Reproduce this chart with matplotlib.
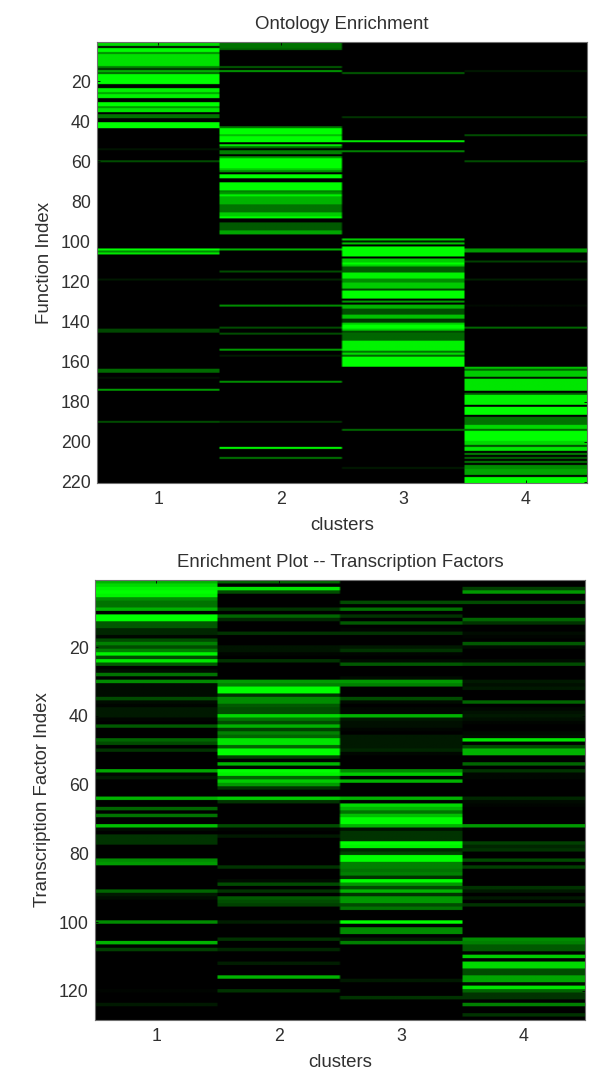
import numpy as np
import matplotlib
matplotlib.use("Agg")
import matplotlib.pyplot as plt
from matplotlib.colors import LinearSegmentedColormap

plt.rcParams['font.family'] = ['Liberation Sans', 'DejaVu Sans']

clusters = [1, 2, 3, 4]
onto_rows = 220
tf_rows = 128
onto_yticks = [20, 40, 60, 80, 100, 120, 140, 160, 180, 200, 220]
tf_yticks = [20, 40, 60, 80, 100, 120]

# enrichment: (first row, last row, level)
onto_c1 = [(1, 2, .85), (3, 3, .05), (4, 5, 1), (6, 6, .55), (7, 12, .88), (13, 13, .5), (14, 14, .2),
           (15, 15, .7), (16, 16, .4), (17, 21, 1), (24, 25, .95), (26, 26, .65), (27, 28, .95),
           (31, 32, 1), (33, 33, .6), (34, 35, .9), (37, 38, .45), (41, 43, 1), (54, 54, .08),
           (60, 60, .3), (104, 104, 1), (105, 105, .55), (106, 106, .9), (119, 119, .1), (144, 145, .28),
           (164, 165, .42), (168, 168, .06), (174, 174, .6), (190, 190, .3)]
onto_c2 = [(1, 3, .45), (4, 4, .4), (13, 13, .35), (15, 15, .6), (43, 43, .45), (44, 46, 1), (47, 47, .75),
           (48, 50, 1), (52, 52, .9), (53, 53, .4), (55, 56, .5), (58, 58, .6), (59, 63, 1), (64, 64, .8),
           (65, 65, .55), (67, 68, 1), (71, 74, 1), (75, 75, .5), (76, 76, .6), (77, 77, .95), (78, 78, .7),
           (79, 81, .7), (82, 85, .45), (86, 87, .8), (88, 88, 1), (91, 94, .35), (95, 96, .65),
           (104, 104, .7), (115, 115, .3), (119, 119, .15), (132, 132, .55), (143, 143, .3), (146, 146, .3),
           (154, 154, .6), (157, 157, .1), (170, 170, .55), (190, 190, .2), (203, 203, 1), (208, 208, .45)]
onto_c3 = [(16, 16, .35), (38, 38, .2), (50, 50, .9), (55, 55, .5), (99, 99, .8), (100, 100, .1),
           (101, 101, .75), (103, 107, 1), (109, 110, .8), (111, 111, 1), (112, 112, .8), (113, 115, .35),
           (116, 118, .95), (119, 120, .55), (121, 123, .8), (124, 124, .25), (125, 128, 1), (130, 130, .6),
           (132, 133, .7), (134, 136, .3), (137, 138, .75), (139, 140, .2), (141, 141, .8), (142, 143, 1),
           (144, 144, .8), (145, 145, .3), (146, 149, .4), (150, 154, .95), (155, 155, .45), (156, 156, .85),
           (157, 157, .4), (158, 162, 1), (194, 194, .4), (213, 213, .1)]
onto_c4 = [(15, 15, .1), (38, 38, .2), (47, 47, .3), (60, 60, .3), (104, 105, .6), (110, 110, .25),
           (119, 119, .12), (132, 132, .04), (143, 143, .4), (163, 163, .75), (164, 164, .4), (165, 167, .8),
           (168, 168, .1), (169, 174, .9), (176, 176, .35), (177, 181, .95), (183, 186, 1), (188, 191, .45),
           (192, 193, .85), (194, 194, .4), (195, 199, 1), (200, 201, .85), (202, 202, .3), (203, 204, .9),
           (206, 206, .5), (208, 208, .4), (210, 210, .45), (212, 213, .55), (214, 216, .65), (218, 220, 1)]

tf_c1 = [(1, 1, .7), (2, 2, .85), (3, 3, .95), (4, 4, 1), (5, 5, .95), (6, 6, .55), (7, 8, .45), (9, 9, .7),
         (11, 12, 1), (13, 14, .35), (15, 16, .15), (17, 17, .03), (18, 18, .3), (19, 19, .5), (20, 20, .3),
         (21, 21, .5), (22, 22, .95), (23, 23, .3), (24, 24, .9), (25, 25, .35), (27, 27, .05), (28, 28, .45),
         (30, 30, .55), (31, 34, .05), (35, 35, .3), (36, 36, .05), (37, 37, .02), (38, 40, .1), (41, 41, .02),
         (43, 43, .35), (47, 47, .4), (48, 48, .3), (50, 50, .2), (56, 56, .65), (57, 57, .03), (58, 58, .1),
         (64, 64, .7), (67, 67, .4), (69, 69, .45), (72, 72, .75), (73, 73, .05), (75, 77, .2), (82, 82, .55),
         (83, 83, .6), (91, 91, .4), (92, 92, .1), (93, 93, .05), (100, 100, .55), (106, 106, .7),
         (108, 108, .25), (120, 120, .02), (124, 124, .1)]
tf_c2 = [(1, 1, .4), (3, 3, .9), (4, 4, .3), (9, 9, .2), (11, 11, .4), (12, 12, .15), (16, 16, .2), (20, 21, .08),
         (22, 22, .02), (24, 24, .2), (30, 30, .6), (31, 31, .5), (32, 33, 1), (34, 34, .2), (35, 36, .55),
         (37, 37, .35), (38, 39, .3), (40, 40, .85), (41, 41, .45), (42, 42, .3), (43, 43, .7), (44, 44, .25),
         (45, 45, .5), (46, 46, .4), (47, 48, .9), (49, 49, .4), (50, 51, 1), (52, 52, .25), (54, 54, .7),
         (55, 55, .03), (56, 56, 1), (57, 57, .95), (58, 58, .4), (59, 59, .8), (60, 60, .6), (61, 61, .2),
         (64, 64, .8), (65, 65, .2), (72, 72, .3), (73, 73, .02), (75, 75, .1), (84, 84, .2), (88, 88, .05),
         (89, 89, .3), (91, 91, .2), (93, 93, .35), (94, 94, .3), (95, 95, .25), (100, 100, .12), (105, 105, .2),
         (108, 108, .15), (112, 112, .12), (116, 116, .7), (120, 120, .2)]
tf_c3 = [(7, 7, .3), (9, 9, .45), (11, 11, .2), (13, 13, .35), (15, 15, .02), (16, 16, .2), (20, 20, .1),
         (21, 21, .2), (22, 22, .02), (24, 24, .05), (25, 25, .35), (29, 29, .05), (30, 30, .6), (31, 31, .5),
         (35, 35, .3), (36, 36, .05), (38, 39, .03), (40, 40, .7), (41, 41, .1), (42, 43, .06), (44, 44, .02),
         (46, 49, .1), (50, 50, .15), (51, 51, .03), (56, 56, .55), (57, 57, .8), (59, 59, .7), (64, 64, .7),
         (66, 66, .85), (67, 67, .7), (68, 68, .45), (69, 69, .75), (70, 71, 1), (72, 72, .7), (73, 73, .08),
         (74, 76, .2), (77, 77, 1), (78, 78, .95), (79, 79, .15), (80, 80, .25), (81, 82, 1), (83, 84, .5),
         (85, 85, .45), (86, 86, .5), (87, 87, .2), (88, 88, 1), (89, 89, .6), (90, 90, .3), (91, 91, .7),
         (92, 92, .2), (93, 94, .6), (95, 95, .3), (96, 96, .45), (100, 100, 1), (102, 103, .55), (105, 105, .1),
         (106, 106, .5), (117, 117, .1), (122, 122, .2)]
tf_c4 = [(3, 3, .25), (4, 4, .6), (7, 7, .3), (12, 12, .4), (13, 13, .2), (16, 16, .05), (17, 17, .02),
         (19, 19, .35), (20, 20, .05), (24, 24, .05), (25, 25, .3), (30, 30, .1), (31, 31, .06), (32, 32, .1),
         (36, 36, .4), (38, 38, .03), (39, 39, .07), (40, 40, .1), (41, 41, .06), (42, 42, .02), (45, 45, .03),
         (46, 46, .05), (47, 47, .9), (49, 49, .3), (50, 51, .7), (54, 54, .4), (56, 56, .2), (57, 58, .03),
         (64, 64, .15), (65, 65, .04), (66, 66, .02), (72, 72, .6), (77, 77, .25), (78, 78, .15), (79, 79, .2),
         (82, 82, .3), (84, 84, .25), (90, 90, .2), (91, 91, .1), (93, 93, .1), (95, 95, .2), (105, 105, .55),
         (106, 106, .5), (107, 108, .35), (110, 110, .8), (112, 113, .85), (114, 115, .3), (116, 117, .65),
         (118, 118, .05), (119, 119, .9), (120, 120, .4), (121, 122, .2), (124, 124, .5), (127, 127, .2)]


def to_matrix(columns, nrows):
    m = np.zeros((nrows, len(columns)))
    for j, col in enumerate(columns):
        for first, last, level in col:
            m[first - 1:last, j] = level
    return m


black_green = LinearSegmentedColormap.from_list("black_green", ["#000000", "#00ff00"])
textcol = "#303030"
fs = 13.4


def heat(box, matrix, yticks, title, ylabel):
    ax = fig.add_axes(box)
    n = matrix.shape[0]
    # repeat so the soft scan look only blurs along the rows, not between clusters
    img = np.repeat(np.repeat(matrix, 3, axis=0), 60, axis=1)
    ax.imshow(img, cmap=black_green, vmin=0, vmax=1, aspect="auto", interpolation="bilinear",
              extent=[0.5, 4.5, n + 0.5, 0.5])
    ax.set_xticks(clusters)
    ax.set_yticks(yticks)
    ax.tick_params(direction="in", length=2.5, width=0.6, top=True, right=True, color="black",
                   labelsize=12.8, labelcolor=textcol, pad=4.5)
    ax.tick_params(axis="x", pad=6)
    for s in ax.spines.values():
        s.set_color("#707070")
        s.set_linewidth(0.8)
    ax.set_title(title, fontsize=fs, color=textcol, pad=9.5)
    ax.set_xlabel("clusters", fontsize=fs, color=textcol, labelpad=6.5)
    ax.set_ylabel(ylabel, fontsize=fs, color=textcol, labelpad=5.5)
    return ax


fig = plt.figure(figsize=(6, 10.8), dpi=100)
W, H = 600.0, 1080.0

top = to_matrix([onto_c1, onto_c2, onto_c3, onto_c4], onto_rows)
bottom = to_matrix([tf_c1, tf_c2, tf_c3, tf_c4], tf_rows)

heat([97 / W, 1 - 483 / H, 490 / W, 441 / H], top, onto_yticks, "Ontology Enrichment", "Function Index")
heat([95 / W, 1 - 1020 / H, 490 / W, 440 / H], bottom, tf_yticks,
     "Enrichment Plot -- Transcription Factors", "Transcription Factor Index")

plt.savefig("out.png", dpi=100)
